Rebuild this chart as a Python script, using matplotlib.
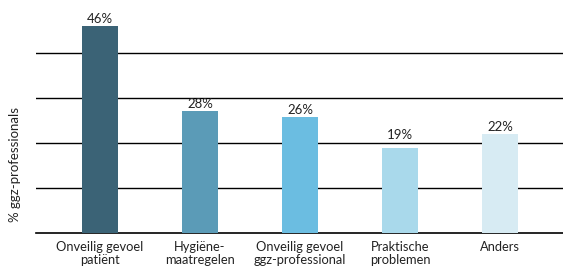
import matplotlib.pyplot as plt

categories = ['Onveilig gevoel\npatiënt', 'Hygiëne-\nmaatregelen', 'Onveilig gevoel\nggz-professional',
              'Praktische\nproblemen', 'Anders']
# bar heights, labels as printed on the bars
values = [46.0, 27.1, 25.8, 18.9, 22.0]
labels = ['46%', '28%', '26%', '19%', '22%']
colors = ['#3b6376', '#5b9bb7', '#6bbde1', '#a9d9eb', '#d7ebf3']

plt.rcParams['font.family'] = ['Lato', 'DejaVu Sans']

fig = plt.figure(figsize=(5.63, 2.66), dpi=100)
ax = fig.add_axes([36 / 563, 1 - 233 / 266, 1 - 36 / 563, 233 / 266])

x = range(len(categories))
ax.bar(x, values, width=0.36, color=colors, zorder=3)
for i, (v, t) in enumerate(zip(values, labels)):
    # keep the label clear of a gridline just above the bar
    gap = 2.0 if (v % 10) > 8 else 0.7
    ax.text(i, v + gap, t, ha='center', va='baseline', fontsize=9.5, color='#222222')

ax.set_xlim(-0.64, 4.63)
ax.set_ylim(0, 51.8)
ax.set_yticks([10, 20, 30, 40])
ax.yaxis.grid(True, color='black', linewidth=1.0, zorder=0)
ax.tick_params(axis='y', length=0, labelleft=False)
ax.tick_params(axis='x', length=0, pad=6)
ax.set_xticks(list(x))
ax.set_xticklabels(categories, fontsize=9.3, color='#222222', linespacing=1.05)
for s in ['top', 'right', 'left']:
    ax.spines[s].set_visible(False)
ax.spines['bottom'].set_color('black')
ax.spines['bottom'].set_linewidth(1.2)

fig.text(15 / 563, 1 - 164 / 266, '% ggz-professionals', rotation=90, ha='center', va='center',
         fontsize=9.5, color='#222222')

fig.savefig('out.png', dpi=100)
